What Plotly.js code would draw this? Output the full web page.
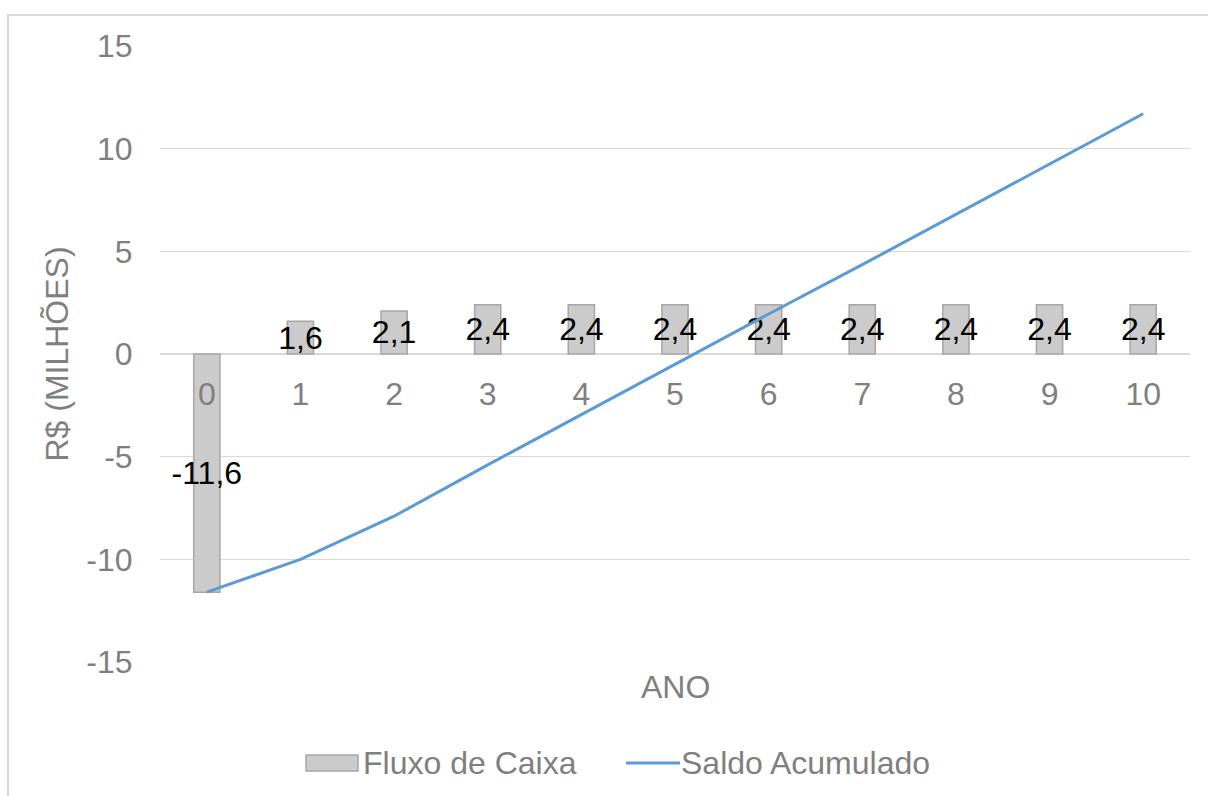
<!DOCTYPE html>
<html>
<head>
<meta charset="utf-8">
<script src="https://cdn.plot.ly/plotly-3.0.1.min.js"></script>
<style>
  html, body { margin: 0; padding: 0; background: #fff; overflow: hidden; }
  #chart { position: absolute; left: 0; top: 0; width: 1208px; height: 796px; }
  #frame { position: absolute; left: 7px; top: 14px; width: 1300px; height: 900px;
           border: 2px solid #d9d9d9; pointer-events: none; }
</style>
</head>
<body>
<div id="chart"></div>
<div id="frame"></div>
<script>
// Anos do projeto
const anos = ['0', '1', '2', '3', '4', '5', '6', '7', '8', '9', '10'];
// Fluxo de caixa anual (R$ milhões)
const fluxoCaixa = [-11.6, 1.6, 2.1, 2.4, 2.4, 2.4, 2.4, 2.4, 2.4, 2.4, 2.4];
// Saldo acumulado (R$ milhões)
const saldoAcumulado = [-11.6, -10.0, -7.9, -5.4, -2.95, -0.5, 1.95, 4.35, 6.8, 9.25, 11.7];
// Marcas do eixo vertical
const yTicks = [-15, -10, -5, 0, 5, 10, 15];

const nomeFluxo = 'Fluxo de Caixa';
const nomeSaldo = 'Saldo Acumulado';

const GRAY_TXT = '#7f7f7f';
const GRID = '#d9d9d9';
const BLUE = '#5b9bd5';
const FONT = 'Arial, "Liberation Sans", sans-serif';
const FS = 32;

const fmt = v => v.toFixed(1).replace('.', ',');

const traces = [
  {
    type: 'bar',
    name: nomeFluxo,
    x: anos,
    y: fluxoCaixa,
    width: 0.28,
    marker: { color: '#cbcbcb', line: { color: '#a6a6a6', width: 1.5 } },
    text: fluxoCaixa.map(fmt),
    textposition: 'inside',
    insidetextanchor: 'middle',
    textangle: 0,
    constraintext: 'none',
    cliponaxis: false,
    textfont: { family: FONT, size: 32, color: '#000' },
    hoverinfo: 'x+y',
    showlegend: false
  },
  {
    type: 'scatter',
    mode: 'lines',
    name: nomeSaldo,
    x: anos,
    y: saldoAcumulado,
    line: { color: BLUE, width: 3 },
    showlegend: false
  }
];

const layout = {
  width: 1208,
  height: 796,
  paper_bgcolor: '#fff',
  plot_bgcolor: '#fff',
  margin: { l: 160, r: 18, t: 46, b: 134 },
  font: { family: FONT, size: FS, color: GRAY_TXT },
  bargap: 0,
  xaxis: {
    type: 'category',
    anchor: 'free',
    position: 0.5,
    showgrid: false,
    showline: false,
    zeroline: false,
    ticks: 'outside',
    ticklen: 12,
    tickcolor: 'rgba(0,0,0,0)',
    tickfont: { family: FONT, size: FS, color: GRAY_TXT },
    fixedrange: true
  },
  yaxis: {
    range: [-15, 15],
    tickvals: yTicks,
    ticktext: yTicks.map(String),
    showgrid: true,
    gridcolor: GRID,
    gridwidth: 1.5,
    zeroline: true,
    zerolinecolor: GRID,
    zerolinewidth: 1.5,
    showline: false,
    ticks: 'outside',
    ticklen: 20,
    tickcolor: 'rgba(0,0,0,0)',
    tickfont: { family: FONT, size: FS, color: GRAY_TXT },
    title: { text: 'R$ (MILHÕES)', font: { family: FONT, size: FS, color: GRAY_TXT }, standoff: 8 },
    fixedrange: true
  },
  annotations: [
    { xref: 'paper', yref: 'paper', x: 0.5, y: 0, yshift: -25, yanchor: 'middle',
      text: 'ANO', showarrow: false, font: { family: FONT, size: FS, color: GRAY_TXT } },
    { xref: 'paper', yref: 'paper', x: (361 - 160) / 1030, y: 0, yshift: -101, xanchor: 'left', yanchor: 'middle',
      text: nomeFluxo, showarrow: false, font: { family: FONT, size: FS, color: GRAY_TXT } },
    { xref: 'paper', yref: 'paper', x: (679 - 160) / 1030, y: 0, yshift: -101, xanchor: 'left', yanchor: 'middle',
      text: nomeSaldo, showarrow: false, font: { family: FONT, size: FS, color: GRAY_TXT } }
  ],
  shapes: [
    // legend swatches
    { type: 'rect', xref: 'paper', yref: 'paper', x0: (306 - 160) / 1030, x1: (358 - 160) / 1030,
      y0: -(755 - 662) / 616, y1: -(771 - 662) / 616,
      fillcolor: '#cbcbcb', line: { color: '#a6a6a6', width: 1.5 } },
    { type: 'line', xref: 'paper', yref: 'paper', x0: (626 - 160) / 1030, x1: (680 - 160) / 1030,
      y0: -(763 - 662) / 616, y1: -(763 - 662) / 616,
      line: { color: BLUE, width: 3 } }
  ],
  showlegend: false
};

Plotly.newPlot('chart', traces, layout, { displayModeBar: false, staticPlot: true });
</script>
</body>
</html>
